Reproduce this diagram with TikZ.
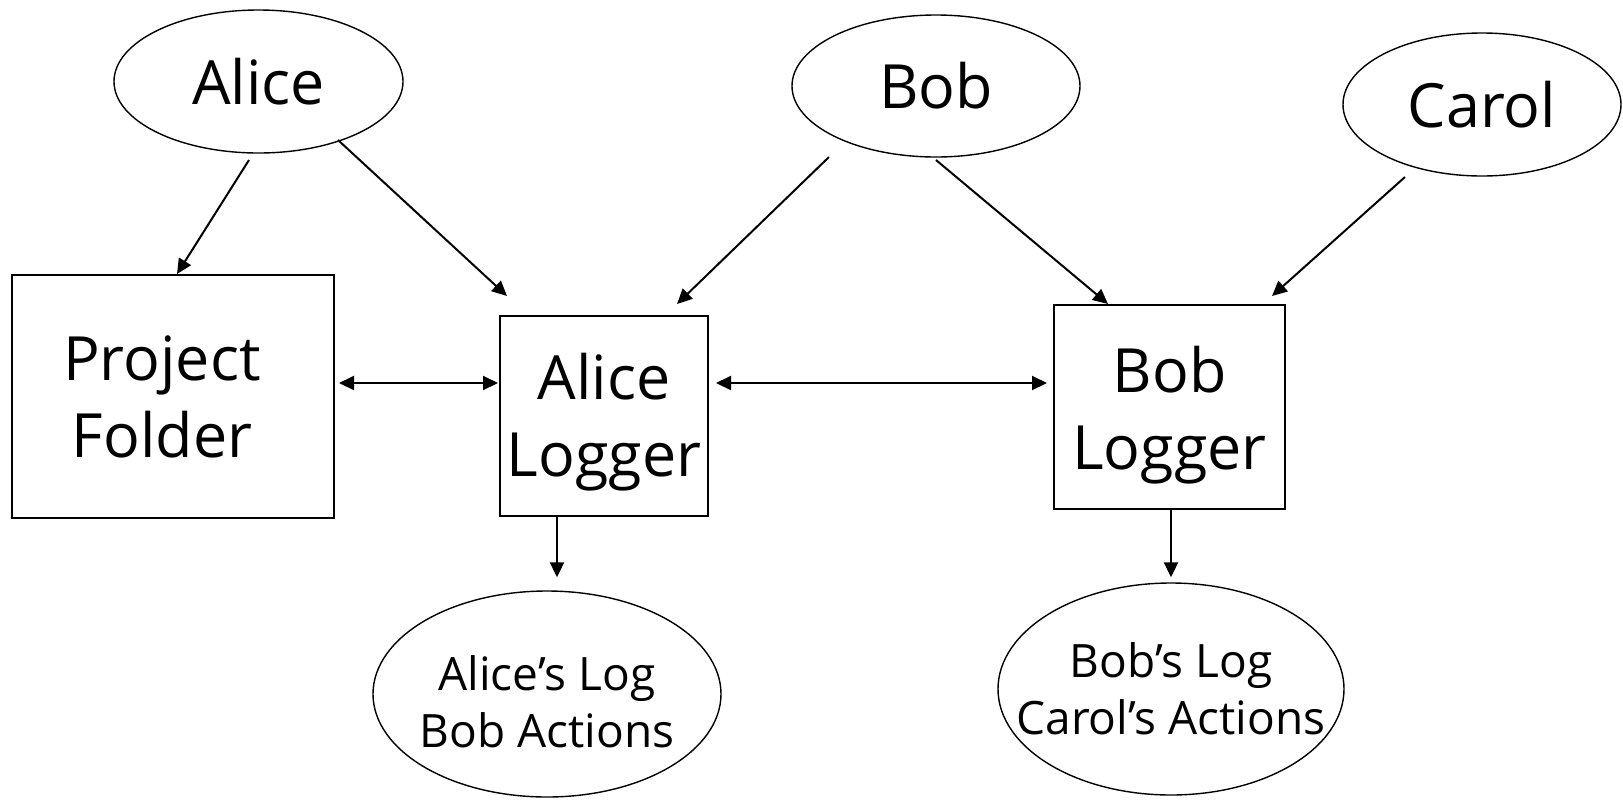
\documentclass[tikz,border=0pt]{standalone}
\usepackage{fontspec}
\setmainfont{Open Sans}
\usetikzlibrary{shapes.geometric,arrows.meta,calc}
\begin{document}
\begin{tikzpicture}[x=0.5pt,y=-0.5pt,
  line width=1pt,
  bigtext/.style={align=center, inner sep=0pt, font=\fontsize{30.5}{38.5}\selectfont},
  logtext/.style={align=center, inner sep=0pt, font=\fontsize{23}{28.5}\selectfont},
  actor/.style={draw, ellipse, line width=0.7pt, inner sep=0pt, font=\fontsize{30.5}{38.5}\selectfont},
  logbox/.style={draw, rectangle, inner sep=0pt},
  logfile/.style={draw, ellipse, line width=0.7pt, inner sep=0pt},
  arr/.style={-{Triangle[length=7.5pt,width=7pt]}},
  biarr/.style={{Triangle[length=7.5pt,width=7pt]}-{Triangle[length=7.5pt,width=7pt]}}
]
\useasboundingbox (0,0) rectangle (1623,799);

% people
\node[actor, minimum width=144.5pt, minimum height=71.5pt] (alice) at (258.5,81.5) {Alice};
\node[actor, minimum width=144pt, minimum height=71pt] (bob) at (936,86) {Bob};
\node[actor, minimum width=139pt, minimum height=71.5pt] (carol) at (1482,104.5) {Carol};

% folder and loggers
\node[logbox, minimum width=161pt, minimum height=121.5pt,
      label={[bigtext, xshift=-5.5pt]center:{Project\\Folder}}] (folder) at (173,396.5) {};
\node[logbox, minimum width=104pt, minimum height=100pt,
      label={[bigtext, yshift=-3pt]center:{Alice\\Logger}}] (alogger) at (604,416) {};
\node[logbox, minimum width=115.5pt, minimum height=102pt,
      label={[bigtext, yshift=-4pt]center:{Bob\\Logger}}] (blogger) at (1169.5,407) {};

% logs
\node[logfile, minimum width=174pt, minimum height=103pt,
      label={[logtext, yshift=-4pt]center:{Alice’s Log\\Bob Actions}}] (alog) at (547,694) {};
\node[logfile, minimum width=173pt, minimum height=106pt,
      label={[logtext]center:{Bob’s Log\\Carol’s Actions}}] (blog) at (1171,689) {};

% who acts on what
\draw[arr] ($(alice.center)+(-9.5,78.5)$) -- ($(folder.north)+(4,0)$);
\draw[arr] ($(alice.center)+(79.5,58.5)$) -- ($(alogger.north)+(-97,-19)$);
\draw[arr] ($(bob.center)+(-107,71)$) -- ($(alogger.north)+(73,-11)$);
\draw[arr] ($(bob.center)+(0,74)$) -- ($(blogger.north)+(-61.5,0)$);
\draw[arr] ($(carol.center)+(-77,72.5)$) -- ($(blogger.north)+(102.5,-8)$);

% exchanges between folder and loggers
\draw[biarr] ($(folder.east)+(4,-13.5)$) -- ($(alogger.west)+(-1,-33)$);
\draw[biarr] ($(alogger.east)+(7,-33)$) -- ($(blogger.west)+(-6,-24)$);

% loggers write their logs
\draw[arr] ($(alogger.south)+(-47,0)$) -- ($(alog.north)+(10,-13)$);
\draw[arr] ($(blogger.south)+(1.5,0)$) -- ($(blog.north)+(0,-5)$);
\end{tikzpicture}
\end{document}
